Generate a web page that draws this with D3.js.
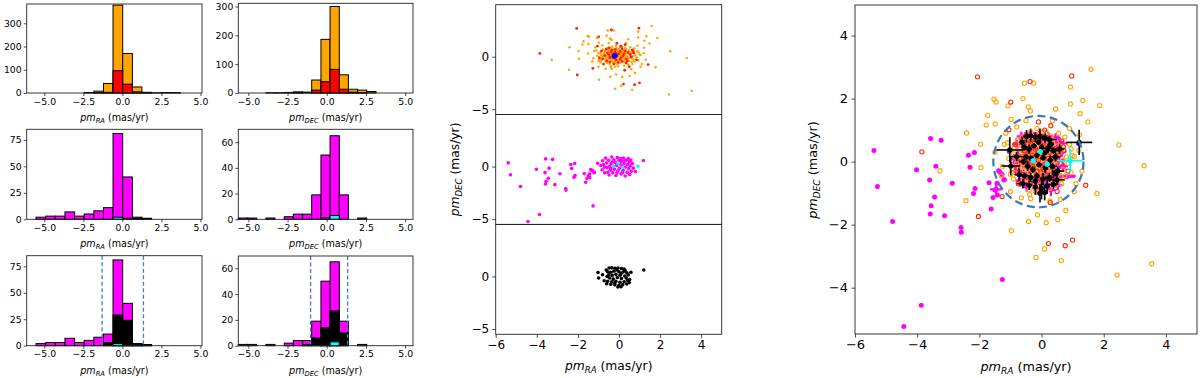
<!DOCTYPE html>
<html>
<head>
<meta charset="utf-8">
<script src="https://cdn.jsdelivr.net/npm/d3@7"></script>
<style>
  body { margin: 0; background: #fff; }
  svg { display: block; }
  text { font-family: "DejaVu Sans", sans-serif; fill: #000; }
</style>
</head>
<body>
<svg id="fig" width="1200" height="378"></svg>
<script>
// ---- histogram bins and counts ----
const raEdges = [-5.53, -4.91, -4.30, -3.68, -3.06, -2.45, -1.83, -1.21, -0.60, 0.02, 0.64, 1.25, 1.87, 2.49, 3.10, 3.72];
const decEdges = [-5.64, -5.05, -4.47, -3.88, -3.30, -2.71, -2.13, -1.54, -0.96, -0.37, 0.21, 0.80, 1.38, 1.97, 2.55, 3.14];

const raOrange  = [0, 0, 0, 0, 0, 2, 8, 41, 378, 170, 26, 3, 1, 2, 2];
const raRed     = [0, 0, 0, 0, 0, 0, 1, 3, 96, 38, 5, 1, 0, 0, 0];
const raMagenta = [2, 3, 3, 7, 3, 5, 8, 11, 81, 40, 2, 1, 0, 0, 0];
const raCyan    = [0, 0, 0, 0, 0, 0, 0, 0, 2, 1, 1, 0, 0, 0, 0];
const raBlack   = [0, 0, 0, 0, 0, 0, 0, 3, 29, 24, 2, 1, 0, 0, 0];

const decOrange  = [0, 0, 0, 1, 1, 2, 4, 3, 45, 186, 300, 63, 13, 10, 5];
const decRed     = [0, 0, 0, 0, 0, 0, 1, 0, 10, 39, 82, 13, 3, 1, 0];
const decMagenta = [1, 1, 0, 1, 0, 2, 4, 4, 19, 50, 65, 19, 0, 1, 0];
const decCyan    = [0, 0, 0, 0, 0, 0, 0, 0, 0, 1, 3, 0, 0, 0, 0];
const decBlack   = [0, 0, 0, 0, 0, 0, 0, 1, 6, 14, 27, 10, 0, 0, 0];

const raCut = [-1.30, 1.35];
const decCut = [-1.03, 1.33];

const histXTicks = [-5, -2.5, 0, 2.5, 5];
const histYTicksBig = [0, 100, 200, 300];
const histYTicksRA = [0, 25, 50, 75];
const histYTicksDEC = [0, 20, 40, 60];

// ---- proper motion points [pmRA, pmDEC] ----
const orangePts = [
  [1.59, 2.93], [0.93, 2.37], [-0.55, 2.49], [-0.25, 2.49], [-1.53, 1.98], [-1.46, 1.89], [-1.08, 1.77],
  [1.33, 1.94], [1.87, 1.78], [0.93, 1.83], [0.45, 1.67], [-0.43, 1.74], [-0.36, 1.61], [-1.73, 1.47],
  [-1.78, 1.16], [-1.49, 1.20], [-0.98, 1.34], [-2.41, 0.91], [-1.96, 0.55], [1.49, 1.26], [1.22, 0.85],
  [2.49, 0.53], [3.30, -0.13], [1.05, 0.16], [-1.95, -0.19], [-3.27, -0.29], [1.11, -0.70], [1.78, -1.01],
  [-2.43, -1.24], [0.78, -1.55], [-0.13, -1.69], [-0.42, -1.90], [0.15, -1.94], [0.52, -1.84], [-0.97, -2.19],
  [0.10, -2.77], [-0.18, -3.04], [0.64, -3.14], [2.43, -3.60], [3.54, -3.24], [-0.38, -1.04], [-0.35, -1.18],
  [0.27, -1.25], [-0.60, 2.00], [1.24, 1.52],
  [-1.5, 0.3], [-1.2, 0.55], [-1.3, -0.45], [-1.0, -0.95], [-0.8, 1.1], [0.9, 1.05], [1.2, 0.35], [1.3, -0.3],
  [1.05, -0.95], [0.6, -1.2], [-0.65, -1.15], [-1.15, 0.9], [0.35, 1.3], [-0.5, 1.3], [0.95, -0.35], [-1.25, -0.15],
  [-0.15, 0.12], [-0.32, 0.05], [0.05, 0.22], [-0.45, 0.31], [0.18, -0.08], [-0.22, -0.18], [-0.05, 0.45], [0.32, 0.28],
  [-0.6, -0.05], [0.12, 0.6], [-0.38, -0.35], [0.42, -0.22], [-0.7, 0.4], [0.55, 0.1], [-0.28, 0.62], [0.02, -0.42],
  [-0.52, 0.55], [0.25, -0.5], [-0.85, 0.15], [0.7, 0.38], [-0.12, 0.85], [-0.65, -0.45], [0.48, 0.62], [-0.95, -0.25],
  [0.62, -0.48], [-0.08, -0.75], [-0.42, 0.82], [0.3, 0.82], [-0.78, 0.68], [0.85, -0.05],
  [-0.25, 0.28], [-0.02, 0.02], [-0.18, 0.38], [0.1, 0.35], [-0.35, 0.18], [-0.48, -0.12], [0.22, 0.08], [-0.1, -0.3],
  [0.38, 0.45], [-0.55, 0.22], [0.08, -0.18], [-0.3, -0.55], [0.15, 0.92], [-0.62, 0.78], [0.7, -0.25], [-0.88, 0.45],
  [0.45, -0.75], [-0.2, -0.95], [0.9, 0.55], [-1.05, 0.1],
  [-0.12, 0.18], [-0.28, -0.08], [0.0, 0.3], [-0.4, 0.45], [0.28, 0.15], [-0.08, 0.58], [-0.58, 0.38], [0.35, -0.05],
  [-0.72, -0.2], [0.18, 0.48], [-0.35, 0.95], [0.58, 0.3], [-0.45, -0.68], [0.05, -0.6], [0.75, 0.78], [-0.9, -0.55],
  [0.65, -0.7], [-0.15, 1.05], [1.0, 0.2], [-1.1, 0.6],
  [-0.2, 0.0], [-0.05, 0.15], [-0.33, 0.32], [0.12, 0.12], [-0.5, 0.05], [0.2, 0.3], [-0.18, -0.4], [-0.68, 0.15],
  [0.4, 0.05], [0.0, 0.75], [-0.25, 0.75], [0.5, -0.4], [-0.8, -0.05], [0.3, -0.3], [-0.55, -0.28], [0.8, 0.15],
  [-0.4, -0.9], [0.25, -0.85], [-1.0, 0.35], [0.55, 0.9],
  [-0.42, 0.12], [-0.12, -0.12], [0.08, 0.42], [-0.3, 0.5], [0.3, -0.12], [-0.62, -0.18], [0.2, 0.65], [-0.48, 0.68],
  [0.52, 0.22], [-0.75, 0.3], [0.02, -0.28], [-0.22, 0.55], [0.4, 0.32], [-0.58, -0.6], [0.15, -0.35], [-0.85, -0.35],
  [0.68, 0.05], [-0.38, -0.2], [-0.02, 0.38], [0.28, 0.5], [-0.15, 0.3], [-0.32, -0.42], [0.1, 0.05], [-0.52, 0.45],
  [0.48, -0.1], [-0.68, 0.55], [0.05, 0.95], [-0.25, -0.5], [0.6, 0.48], [-0.9, 0.25], [-0.4, 0.6], [0.22, -0.25],
  [-0.1, 0.7], [-0.6, 0.05], [0.35, 0.7], [-0.18, -0.6], [0.75, -0.45], [-1.0, -0.4], [0.95, 0.4], [-0.05, -0.9]
];

const redPts = [
  [-2.06, 2.69], [-0.37, 2.54], [0.97, 2.72], [-0.99, 1.89], [-0.10, 1.26], [0.30, 1.14], [-1.05, 1.01],
  [-3.85, 0.31], [1.42, -0.75], [0.70, 0.47], [-1.27, -1.11], [-2.03, -1.74], [0.28, -1.30], [0.22, -2.60],
  [0.76, -2.67], [1.00, -2.49],
  [-0.1, 0.05], [-0.3, 0.2], [0.1, -0.1], [-0.2, 0.4], [0.25, 0.3], [-0.45, -0.1], [0.05, 0.5], [-0.55, 0.35],
  [0.35, -0.2], [-0.15, -0.3], [-0.7, 0.1], [0.45, 0.4], [-0.35, 0.65], [0.15, 0.75], [-0.05, -0.55], [-0.6, -0.4],
  [0.6, -0.05], [-0.85, 0.55], [0.65, 0.65], [-0.25, -0.7], [0.35, -0.6], [-0.95, -0.1], [0.85, -0.3], [-0.5, 0.85],
  [0.1, 1.0], [-0.75, -0.7], [0.5, -0.95], [-0.4, 0.0], [0.0, 0.25], [-0.22, 0.15],
  [-0.12, 0.3], [-0.38, 0.45], [0.2, 0.1], [-0.28, -0.15], [0.05, -0.25], [-0.5, 0.2], [0.3, 0.55], [-0.62, 0.7],
  [0.15, -0.45], [-0.18, 0.68], [0.55, 0.2], [-0.8, -0.2], [0.4, -0.4], [-0.45, -0.5], [0.72, 0.35]
];

const bluePts = [[-0.21, 0.08]];

const magentaPts = [
  [-5.39, 0.35], [-5.28, -0.79], [-3.57, 0.73], [-3.23, 0.68], [-4.02, -0.26], [-3.40, -0.15], [-3.60, -0.58],
  [-3.44, -1.12], [-2.87, -0.69], [-2.35, 0.20], [-2.16, 0.29], [-2.30, -0.18], [-2.14, -0.85], [-2.19, -1.01],
  [-1.69, -0.67], [-1.56, -1.14], [-1.38, -0.29], [-1.34, -0.34], [-1.21, -0.58], [-1.43, -0.69], [-3.55, -1.40],
  [-3.58, -1.66], [-3.12, -1.72], [-4.79, -1.90], [-2.59, -2.09], [-2.58, -2.24], [-1.62, -1.50], [-1.42, -1.06],
  [-1.26, -3.74], [-3.87, -4.56], [-4.43, -5.23], [-1.04, 0.32], [1.19, 0.57], [-1.27, -0.41], [-1.20, -0.57],
  [-1.50, -0.90]
];

// cluster stars with errors [pmRA, pmDEC, errRA, errDEC]
const magentaErr = [
  [-0.8, 0.55, 0.15, 0.15], [-0.75, 0.2, 0.15, 0.2], [-0.82, -0.3, 0.2, 0.15], [-0.7, -0.6, 0.15, 0.2], [-0.65, 0.8, 0.15, 0.15],
  [-0.6, 0.35, 0.15, 0.15], [-0.58, -0.1, 0.2, 0.2], [-0.5, 0.6, 0.15, 0.2], [-0.48, -0.8, 0.15, 0.15], [-0.45, 0.05, 0.15, 0.15],
  [-0.42, -0.35, 0.15, 0.15], [-0.38, 0.3, 0.15, 0.2], [-0.35, 0.9, 0.2, 0.15], [-0.3, -0.6, 0.15, 0.15], [-0.28, 0.0, 0.15, 0.15],
  [-0.25, 0.65, 0.15, 0.15], [-0.22, -0.25, 0.15, 0.2], [-0.18, 0.4, 0.2, 0.15], [-0.15, -0.85, 0.15, 0.2], [-0.12, 0.1, 0.15, 0.15],
  [-0.08, 0.85, 0.15, 0.15], [-0.05, -0.4, 0.15, 0.15], [0.0, 0.6, 0.15, 0.2], [0.02, -0.15, 0.15, 0.15], [0.05, 0.25, 0.2, 0.15],
  [0.1, -0.7, 0.15, 0.15], [0.12, 0.5, 0.15, 0.15], [0.15, 0.05, 0.15, 0.15], [0.2, -0.35, 0.2, 0.2], [0.22, 0.8, 0.15, 0.15],
  [0.25, 0.3, 0.15, 0.15], [0.3, -0.9, 0.15, 0.2], [0.32, -0.05, 0.15, 0.15], [0.35, 0.6, 0.2, 0.15], [0.4, -0.55, 0.15, 0.15],
  [0.42, 0.2, 0.15, 0.2], [0.48, -0.2, 0.15, 0.15], [0.5, 0.45, 0.15, 0.15], [0.52, -0.75, 0.15, 0.15], [0.55, 0.05, 0.2, 0.15],
  [0.6, -0.45, 0.5, 0.05], [0.65, 0.3, 0.15, 0.15], [0.7, -0.15, 0.15, 0.15], [-0.55, -0.55, 0.15, 0.15], [-0.3, 0.45, 0.15, 0.15],
  [0.28, 0.6, 0.15, 0.15], [-0.1, -0.6, 0.15, 0.15], [0.45, 0.75, 0.15, 0.15], [-0.7, -0.05, 0.15, 0.15], [0.08, 0.75, 0.15, 0.15],
  [-0.4, -0.15, 0.15, 0.15], [0.18, -0.55, 0.15, 0.15], [-0.88, 0.1, 0.15, 0.15], [0.58, 0.62, 0.15, 0.15], [0.54, 0.58, 0.3, 0.25],
  [0.8, -0.48, 0.27, 0.05], [-1.46, -0.88, 0.2, 0.2]
];

const blackErr = [
  [-1.02, 0.37, 0.43, 0.40], [-0.99, -0.14, 0.30, 0.30], [-0.80, 0.16, 0.20, 0.15], [-0.72, -0.41, 0.15, 0.20], [1.21, 0.61, 0.42, 0.40],
  [-0.48, 0.80, 0.12, 0.20], [-0.35, 0.82, 0.15, 0.20], [-0.20, 0.78, 0.10, 0.15], [-0.05, 0.80, 0.15, 0.25], [0.12, 0.75, 0.10, 0.15],
  [0.25, 0.70, 0.25, 0.12], [-0.55, 0.45, 0.10, 0.10], [-0.40, 0.40, 0.08, 0.15], [-0.25, 0.50, 0.10, 0.08], [0.00, 0.45, 0.08, 0.10],
  [0.20, 0.42, 0.15, 0.15], [0.38, 0.35, 0.20, 0.10], [-0.50, 0.15, 0.10, 0.08], [-0.33, 0.10, 0.08, 0.10], [-0.15, 0.20, 0.08, 0.08],
  [0.05, 0.12, 0.10, 0.08], [0.28, 0.05, 0.08, 0.15], [0.45, 0.15, 0.15, 0.15], [-0.45, -0.15, 0.10, 0.15], [-0.28, -0.25, 0.08, 0.10],
  [-0.08, -0.10, 0.10, 0.08], [0.12, -0.20, 0.08, 0.15], [0.35, -0.15, 0.15, 0.10], [0.52, -0.30, 0.20, 0.15], [-0.55, -0.45, 0.15, 0.10],
  [-0.35, -0.50, 0.10, 0.15], [-0.15, -0.45, 0.08, 0.10], [0.05, -0.55, 0.10, 0.20], [0.25, -0.50, 0.15, 0.15], [0.50, -0.58, 0.25, 0.15],
  [-0.40, -0.75, 0.10, 0.15], [-0.20, -0.80, 0.08, 0.25], [0.00, -0.85, 0.10, 0.35], [0.18, -0.78, 0.08, 0.25], [0.38, -0.72, 0.15, 0.15],
  [-0.10, 0.62, 0.08, 0.10], [0.30, 0.55, 0.10, 0.15], [-0.62, 0.62, 0.10, 0.15], [0.10, 0.28, 0.08, 0.08], [-0.20, -0.62, 0.08, 0.15],
  [0.42, -0.38, 0.10, 0.10], [-0.05, -1.00, 0.08, 0.30], [0.10, -0.98, 0.08, 0.25], [-0.58, 0.00, 0.15, 0.10], [0.58, 0.40, 0.15, 0.15],
  [-0.60, -0.70, 0.20, 0.15]
];

const cyanErr = [[-0.04, 0.32, 0.05, 0.05], [-0.27, 0.03, 0.05, 0.05], [0.18, -0.08, 0.05, 0.05], [0.92, 0.03, 0.40, 0.37]];

const memberCircle = { x: -0.1, y: 0.0, r: 1.45 };

const scatterXTicks = [-6, -4, -2, 0, 2, 4];
const midYTicks = [-5, 0];
const rightYTicks = [-4, -2, 0, 2, 4];

// ---- drawing ----
const svg = d3.select('#fig');
const plain = d3.format('');

function pmLabel(g, x, y, sub, size, vertical) {
  const t = g.append('text')
    .attr('text-anchor', 'middle')
    .attr('font-size', size)
    .attr('transform', 'translate(' + x + ',' + y + ')' + (vertical ? ' rotate(-90)' : ''));
  t.append('tspan').attr('font-style', 'italic').text('pm');
  t.append('tspan').attr('font-style', 'italic').attr('font-size', size * 0.7).attr('dy', size * 0.22).text(sub);
  t.append('tspan').attr('dy', -size * 0.22).text(' (mas/yr)');
}

function styleAxis(sel, size) {
  sel.attr('font-family', '"DejaVu Sans", sans-serif').attr('font-size', size);
  sel.select('.domain').remove();
  sel.selectAll('.tick line').attr('stroke', '#222').attr('stroke-width', 0.8);
  sel.selectAll('.tick text').attr('fill', '#000');
}

function frame(g, x, y) {
  g.append('rect')
    .attr('x', x.range()[0]).attr('y', y.range()[1])
    .attr('width', x.range()[1] - x.range()[0])
    .attr('height', y.range()[0] - y.range()[1])
    .attr('fill', 'none').attr('stroke', '#222').attr('stroke-width', 0.9);
}

function histPanel(o) {
  const x = d3.scaleLinear().domain(o.xlim).range([o.left, o.right]);
  const y = d3.scaleLinear().domain([0, o.ymax]).range([o.bottom, o.top]);
  const g = svg.append('g');

  o.layers.forEach(([counts, color]) => {
    const bins = counts.map((c, i) => ({ c, i })).filter(d => d.c > 0);
    g.append('g').selectAll('rect')
      .data(bins)
      .join('rect')
      .attr('x', d => x(o.edges[d.i]))
      .attr('width', d => x(o.edges[d.i + 1]) - x(o.edges[d.i]))
      .attr('y', d => y(d.c))
      .attr('height', d => y(0) - y(d.c))
      .attr('fill', color)
      .attr('stroke', '#000')
      .attr('stroke-width', 1);
  });

  (o.cuts || []).forEach(v => {
    g.append('line')
      .attr('x1', x(v)).attr('x2', x(v))
      .attr('y1', o.top).attr('y2', o.bottom)
      .attr('stroke', '#3d7fbf').attr('stroke-width', 1.3)
      .attr('stroke-dasharray', '4,2.5');
  });

  g.append('g')
    .attr('transform', 'translate(0,' + o.bottom + ')')
    .call(d3.axisBottom(x).tickValues(histXTicks).tickFormat(d3.format('.1f')).tickSize(3).tickPadding(2))
    .call(s => styleAxis(s, 9.3));
  g.append('g')
    .attr('transform', 'translate(' + o.left + ',0)')
    .call(d3.axisLeft(y).tickValues(o.yticks).tickFormat(d3.format('d')).tickSize(3).tickPadding(2))
    .call(s => styleAxis(s, 9.3));

  frame(g, x, y);
  pmLabel(g, (o.left + o.right) / 2, o.bottom + 28, o.sub, 9.6, false);
}

const colRA = { left: 26.7, right: 202, xlim: [-6.13, 5.1], edges: raEdges, sub: 'RA' };
const colDEC = { left: 238.3, right: 413, xlim: [-5.64, 5.5], edges: decEdges, sub: 'DEC' };

histPanel(Object.assign({}, colRA, { top: 4, bottom: 93, ymax: 383, yticks: histYTicksBig,
  layers: [[raOrange, '#ffa500'], [raRed, '#ff0000']] }));
histPanel(Object.assign({}, colDEC, { top: 3.3, bottom: 93, ymax: 311, yticks: histYTicksBig,
  layers: [[decOrange, '#ffa500'], [decRed, '#ff0000']] }));
histPanel(Object.assign({}, colRA, { top: 129.3, bottom: 219.3, ymax: 85, yticks: histYTicksRA,
  layers: [[raMagenta, '#ff00ff'], [raCyan, '#00ffff']] }));
histPanel(Object.assign({}, colDEC, { top: 129.3, bottom: 219.3, ymax: 70, yticks: histYTicksDEC,
  layers: [[decMagenta, '#ff00ff'], [decCyan, '#00ffff']] }));
histPanel(Object.assign({}, colRA, { top: 255.7, bottom: 345.7, ymax: 85, yticks: histYTicksRA,
  layers: [[raMagenta, '#ff00ff'], [raBlack, '#000000'], [raCyan, '#00ffff']], cuts: raCut }));
histPanel(Object.assign({}, colDEC, { top: 256, bottom: 345.7, ymax: 69.5, yticks: histYTicksDEC,
  layers: [[decMagenta, '#ff00ff'], [decBlack, '#000000'], [decCyan, '#00ffff']], cuts: decCut }));

// ---- middle: three stacked scatter panels ----
const midX = d3.scaleLinear().domain([-6, 5]).range([495.7, 721.7]);
const midRows = [[4.7, 114.5], [114.5, 224.4], [224.4, 334.3]];
const midG = svg.append('g');

function dots(g, pts, x, y, r, fill) {
  g.append('g').selectAll('circle')
    .data(pts)
    .join('circle')
    .attr('cx', d => x(d[0])).attr('cy', d => y(d[1]))
    .attr('r', r).attr('fill', fill);
}

midRows.forEach((row, k) => {
  const y = d3.scaleLinear().domain([-5.5, 4.95]).range([row[1], row[0]]);
  const clipId = 'midclip' + k;
  midG.append('clipPath').attr('id', clipId).append('rect')
    .attr('x', midX.range()[0]).attr('y', row[0])
    .attr('width', midX.range()[1] - midX.range()[0]).attr('height', row[1] - row[0]);
  const pg = midG.append('g').attr('clip-path', 'url(#' + clipId + ')');
  if (k === 0) {
    dots(pg, orangePts, midX, y, 1.25, '#ffa500');
    dots(pg, redPts, midX, y, 1.4, '#ff2000');
    dots(pg, bluePts, midX, y, 2.8, '#0000ff');
  } else if (k === 1) {
    dots(pg, magentaPts.concat(magentaErr), midX, y, 1.8, '#ff00ff');
    dots(pg, cyanErr, midX, y, 1.8, '#00ffff');
  } else {
    dots(pg, blackErr, midX, y, 1.8, '#000000');
  }
  midG.append('g')
    .attr('transform', 'translate(' + midX.range()[0] + ',0)')
    .call(d3.axisLeft(y).tickValues(midYTicks).tickFormat(plain).tickSize(3.5).tickPadding(3))
    .call(s => styleAxis(s, 12));
  frame(midG, midX, y);
});

midG.append('g')
  .attr('transform', 'translate(0,' + midRows[2][1] + ')')
  .call(d3.axisBottom(midX).tickValues(scatterXTicks).tickFormat(plain).tickSize(3.5).tickPadding(2.5))
  .call(s => styleAxis(s, 12));
pmLabel(midG, (midX.range()[0] + midX.range()[1]) / 2, 370, 'RA', 12.3, false);
pmLabel(midG, 459, (midRows[1][0] + midRows[1][1]) / 2, 'DEC', 12.3, true);

// ---- right: combined proper-motion diagram ----
const rx = d3.scaleLinear().domain([-6, 5]).range([855, 1197]);
const ry = d3.scaleLinear().domain([-5.47, 4.97]).range([334, 5]);
const rg = svg.append('g');
rg.append('clipPath').attr('id', 'rclip').append('rect')
  .attr('x', 855).attr('y', 5).attr('width', 342).attr('height', 329);
const rp = rg.append('g').attr('clip-path', 'url(#rclip)');

function errBars(g, pts, x, y, color, w) {
  const eg = g.append('g').attr('stroke', color).attr('stroke-width', w);
  eg.selectAll('line.h').data(pts).join('line').attr('class', 'h')
    .attr('x1', d => x(d[0] - d[2])).attr('x2', d => x(d[0] + d[2]))
    .attr('y1', d => y(d[1])).attr('y2', d => y(d[1]));
  eg.selectAll('line.v').data(pts).join('line').attr('class', 'v')
    .attr('x1', d => x(d[0])).attr('x2', d => x(d[0]))
    .attr('y1', d => y(d[1] - d[3])).attr('y2', d => y(d[1] + d[3]));
}

function rings(g, pts, x, y, r, color) {
  g.append('g').selectAll('circle')
    .data(pts)
    .join('circle')
    .attr('cx', d => x(d[0])).attr('cy', d => y(d[1]))
    .attr('r', r).attr('fill', 'none').attr('stroke', color).attr('stroke-width', 1.1);
}

errBars(rp, magentaErr, rx, ry, '#ff00ff', 2.2);
dots(rp, magentaPts, rx, ry, 2.5, '#ff00ff');
dots(rp, magentaErr, rx, ry, 2.5, '#ff00ff');
rings(rp, orangePts, rx, ry, 2.1, '#ffa500');
rings(rp, redPts, rx, ry, 2.1, '#ff2a00');
errBars(rp, blackErr, rx, ry, '#000000', 1.6);
dots(rp, blackErr, rx, ry, 2.6, '#000000');
errBars(rp, cyanErr, rx, ry, '#00ffff', 1.8);
dots(rp, cyanErr, rx, ry, 2.6, '#00ffff');

rp.append('ellipse')
  .attr('cx', rx(memberCircle.x)).attr('cy', ry(memberCircle.y))
  .attr('rx', rx(memberCircle.r) - rx(0)).attr('ry', ry(0) - ry(memberCircle.r))
  .attr('fill', 'none').attr('stroke', '#3a78b5').attr('stroke-width', 2.2)
  .attr('stroke-dasharray', '8,4.5');

rg.append('g')
  .attr('transform', 'translate(0,334)')
  .call(d3.axisBottom(rx).tickValues(scatterXTicks).tickFormat(plain).tickSize(3.5).tickPadding(2.5))
  .call(s => styleAxis(s, 13));
rg.append('g')
  .attr('transform', 'translate(855,0)')
  .call(d3.axisLeft(ry).tickValues(rightYTicks).tickFormat(plain).tickSize(3.5).tickPadding(3.5))
  .call(s => styleAxis(s, 13));
frame(rg, rx, ry);
pmLabel(rg, (855 + 1197) / 2, 371, 'RA', 12.8, false);
pmLabel(rg, 817, 170, 'DEC', 12.8, true);
</script>
</body>
</html>
